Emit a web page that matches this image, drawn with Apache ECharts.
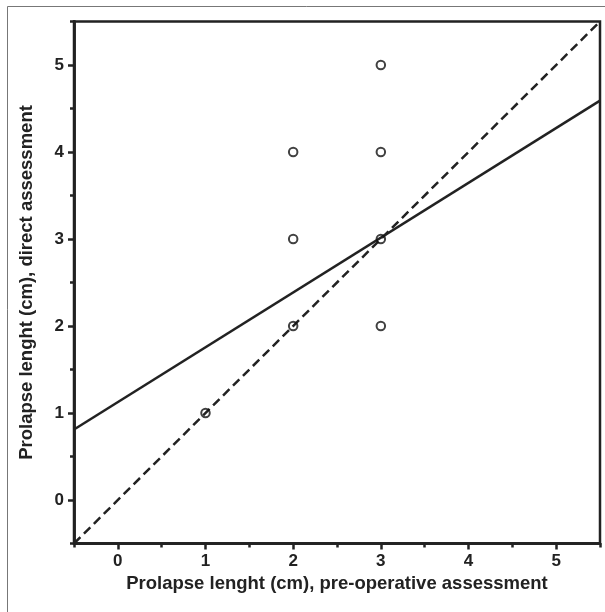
<!DOCTYPE html>
<html>
<head>
<meta charset="utf-8">
<script src="https://cdn.jsdelivr.net/npm/echarts@6/dist/echarts.min.js"></script>
<style>html,body{margin:0;padding:0;background:#fff;}#c{width:605px;height:612px;}</style>
</head>
<body>
<div id="c"></div>
<script>
var majorTicks = [0, 1, 2, 3, 4, 5];
var minorTicks = [-0.5, 0.5, 1.5, 2.5, 3.5, 4.5, 5.5];
var pointsX = [1, 2, 2, 2, 3, 3, 3, 3];
var pointsY = [1, 2, 3, 4, 2, 3, 4, 5];
var regressionLine = [[-0.5, 0.81], [5.5, 4.59]];
var identityLine = [[-0.5, -0.5], [5.5, 5.5]];
var xName = 'Prolapse lenght (cm), pre-operative assessment';
var yName = 'Prolapse lenght (cm), direct assessment';

var ink = '#222';
var font = 'Liberation Sans, Arial, sans-serif';

function axisBase(extra) {
  var a = {
    type: 'value', min: -0.5, max: 5.5,
    splitLine: {show: false},
    axisLine: {show: true, onZero: false, lineStyle: {color: ink, width: 2.5}}
  };
  for (var k in extra) a[k] = extra[k];
  return a;
}

var chart = echarts.init(document.getElementById('c'));
chart.setOption({
  animation: false,
  backgroundColor: '#fff',
  graphic: [{
    type: 'rect', shape: {x: 7.5, y: 6.5, width: 620, height: 640},
    style: {fill: 'none', stroke: '#777', lineWidth: 1}, silent: true, z: -10
  }],
  grid: {left: 74, right: 5, top: 21.5, bottom: 68.5, show: true, borderColor: ink, borderWidth: 2.5, backgroundColor: 'transparent'},
  xAxis: [
    axisBase({
      position: 'bottom',
      name: xName, nameLocation: 'middle', nameGap: 30,
      nameTextStyle: {color: ink, fontFamily: font, fontWeight: 'bold', fontSize: 18.5},
      axisTick: {show: true, customValues: majorTicks, length: 6, lineStyle: {color: ink, width: 2.5}},
      axisLabel: {customValues: majorTicks, color: ink, fontFamily: font, fontWeight: 'bold', fontSize: 17, margin: 9}
    }),
    axisBase({
      position: 'bottom',
      axisTick: {show: true, customValues: minorTicks, length: 4, lineStyle: {color: ink, width: 2.5}},
      axisLabel: {show: false}
    })
  ],
  yAxis: [
    axisBase({
      position: 'left',
      name: yName, nameLocation: 'middle', nameGap: 38,
      nameTextStyle: {color: ink, fontFamily: font, fontWeight: 'bold', fontSize: 18.5},
      axisTick: {show: true, customValues: majorTicks, length: 6, lineStyle: {color: ink, width: 2.5}},
      axisLabel: {customValues: majorTicks, color: ink, fontFamily: font, fontWeight: 'bold', fontSize: 17, margin: 10}
    }),
    axisBase({
      position: 'left',
      axisTick: {show: true, customValues: minorTicks, length: 4, lineStyle: {color: ink, width: 2.5}},
      axisLabel: {show: false}
    })
  ],
  series: [
    {
      type: 'line', data: regressionLine, showSymbol: false, symbol: 'none',
      lineStyle: {color: ink, width: 2.5}, z: 2, silent: true
    },
    {
      type: 'line', data: identityLine, showSymbol: false, symbol: 'none',
      lineStyle: {color: ink, width: 2.5, type: [9, 5]}, z: 2, silent: true
    },
    {
      type: 'scatter',
      data: pointsX.map(function (x, i) { return [x, pointsY[i]]; }),
      symbol: 'circle', symbolSize: 8.5,
      itemStyle: {color: 'rgba(255,255,255,0)', borderColor: '#111', borderWidth: 2},
      z: 3, silent: true
    }
  ]
});
</script>
</body>
</html>
